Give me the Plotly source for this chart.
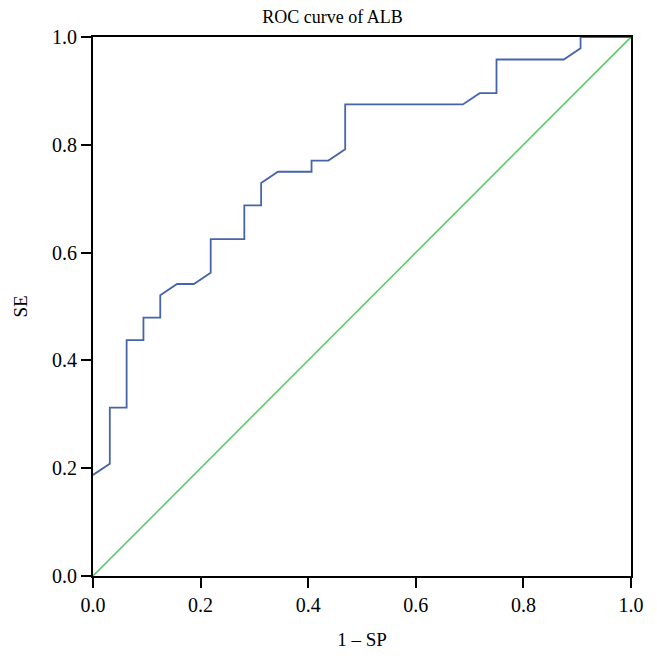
import plotly.graph_objects as go

# ROC curve of ALB (steps of 1/32 in 1-SP and 1/48 in SE)
fpr = [0.0, 0.03125, 0.03125, 0.0625, 0.0625, 0.09375, 0.09375, 0.125, 0.125, 0.15625,
       0.1875, 0.21875, 0.21875, 0.28125, 0.28125, 0.3125, 0.3125, 0.34375, 0.40625,
       0.40625, 0.4375, 0.46875, 0.46875, 0.6875, 0.71875, 0.75, 0.75, 0.875, 0.90625,
       0.90625, 1.0]
tpr = [0.1875, 0.2083, 0.3125, 0.3125, 0.4375, 0.4375, 0.4792, 0.4792, 0.5208, 0.5417,
       0.5417, 0.5625, 0.625, 0.625, 0.6875, 0.6875, 0.7292, 0.75, 0.75,
       0.7708, 0.7708, 0.7917, 0.875, 0.875, 0.8958, 0.8958, 0.9583, 0.9583, 0.9792,
       1.0, 1.0]
ref_x = [0.0, 1.0]
ref_y = [0.0, 1.0]
tick_vals = [0.0, 0.2, 0.4, 0.6, 0.8, 1.0]
tick_text = ["0.0", "0.2", "0.4", "0.6", "0.8", "1.0"]

font = "Liberation Serif"

fig = go.Figure()
fig.add_trace(go.Scatter(x=ref_x, y=ref_y, mode="lines",
                         line=dict(color="#5ec96c", width=1.6), showlegend=False))
fig.add_trace(go.Scatter(x=fpr, y=tpr, mode="lines",
                         line=dict(color="#4763a9", width=1.8), showlegend=False))

axis_common = dict(
    range=[0, 1], tickvals=tick_vals, ticktext=tick_text,
    showgrid=False, zeroline=False, showline=True, linecolor="black", linewidth=2,
    mirror=True, ticks="outside", ticklen=10, tickwidth=2, tickcolor="black",
    tickfont=dict(family=font, size=20, color="black"),
)

fig.update_layout(
    width=649, height=652,
    margin=dict(l=85, r=26, t=29, b=84),
    paper_bgcolor="white", plot_bgcolor="white",
    title=dict(text="ROC curve of ALB", x=0.5, xanchor="center",
               yref="container", y=0.986, yanchor="middle",
               font=dict(family=font, size=18, color="black")),
    xaxis=dict(**axis_common,
               title=dict(text="1 – SP", font=dict(family=font, size=19, color="black"), standoff=18)),
    yaxis=dict(**axis_common,
               title=dict(text="SE", font=dict(family=font, size=19, color="black"), standoff=19)),
)

fig.write_html("out.html")
